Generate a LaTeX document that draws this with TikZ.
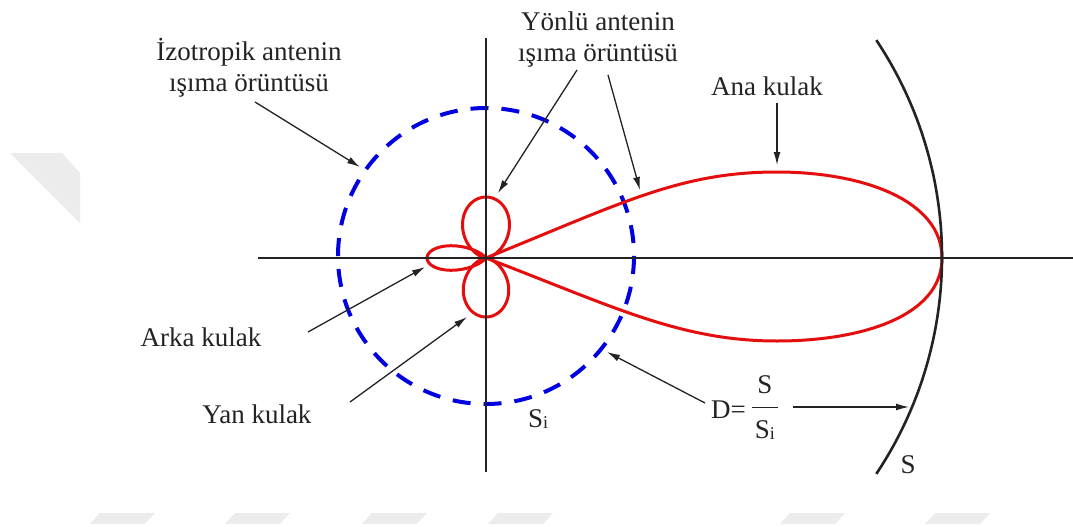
\documentclass[tikz,border=0pt]{standalone}
\usepackage{fontspec}
\setmainfont{Liberation Serif}
\usetikzlibrary{arrows.meta}
\definecolor{lobered}{RGB}{228,14,14}
\definecolor{isoblue}{RGB}{0,0,225}
\definecolor{ink}{RGB}{35,35,35}
\definecolor{wm}{RGB}{236,236,236}
\newcommand{\sbi}{\raisebox{-1.5pt}{\fontsize{18}{18}\selectfont i}}
\begin{document}
\begin{tikzpicture}[x=1pt,y=-1pt,
  lbl/.style={font=\fontsize{27}{31}\selectfont, text=ink, inner sep=0pt},
  axisline/.style={draw=ink, line width=1.5pt},
  ptr/.style={draw=ink, line width=1.3pt, -{Latex[length=13pt,width=7pt]}},
  lobe/.style={draw=lobered, line width=3pt, line join=round},
  isoline/.style={draw=isoblue, line width=4pt, dash pattern=on 18pt off 13pt},
  arcline/.style={draw=ink, line width=2.6pt},
  wmark/.style={fill=wm, draw=none}]
\fill[white] (0,0) rectangle (1073,527);
\useasboundingbox (0,0) rectangle (1073,527);

% faint watermark shapes
\fill[wmark] (10,153) -- (62,153) -- (80,173) -- (80,223) -- cycle;
\foreach \bx in {90,225,362,488,780,925}
  \fill[wmark] (\bx,524) -- ++(10,-11) -- ++(55,0) -- ++(-10,11) -- cycle;

% isotropic pattern
\draw[isoline] (486,256) circle[radius=148];

% directional pattern
\coordinate (O) at (486,258);
\draw[lobe] (O) .. controls (622,203) and (680,172) .. (777,172)
  .. controls (862,172) and (942,200) .. (942,258)
  .. controls (942,316) and (862,341) .. (777,341)
  .. controls (680,341) and (612,306) .. (O);
\draw[lobe] plot[domain=-88:88, samples=121, smooth, variable=\t]
  ({486+61*cos(\t)*cos(\t)*sin(\t)},{258-61*cos(\t)*cos(\t)*cos(\t)});
\draw[lobe] plot[domain=-88:88, samples=121, smooth, variable=\t]
  ({486+59*cos(\t)*cos(\t)*sin(\t)},{258+59*cos(\t)*cos(\t)*cos(\t)});
\draw[lobe] plot[domain=-88:88, samples=121, smooth, variable=\t]
  ({486-59*cos(\t)^9},{258+59*cos(\t)^8*sin(\t)});

% axes
\coordinate (xl) at (258,258); \coordinate (xr) at (1073,258);
\coordinate (yt) at (486,38);  \coordinate (yb) at (486,472);
\draw[axisline] (xl) -- (xr);
\draw[axisline] (yt) -- (yb);

% sphere S
\draw[arcline] plot[domain=-33.7:33.7, samples=60, smooth, variable=\t]
  ({551+391*cos(\t)},{257+391*sin(\t)});

% labels
\node[lbl, align=center] (izo) at (249,68) {İzotropik antenin\\ışıma örüntüsü};
\node[lbl, align=center] (yon) at (598,40) {Yönlü antenin\\ışıma örüntüsü};
\node[lbl, anchor=base] (ana) at (767,95) {Ana kulak};
\node[lbl, anchor=base] (arka) at (201,346) {Arka kulak};
\node[lbl, anchor=base] (yan) at (257,423) {Yan kulak};
\node[lbl, anchor=base west] (si) at (528,427) {S\sbi};
\node[lbl, anchor=base] (sarc) at (908,473) {S};
\node[lbl, anchor=base west] (dform) at (711,418) {D=\kern6pt\raisebox{25pt}{\setlength{\arrayrulewidth}{1.2pt}\begin{tabular}[t]{@{\hspace{3pt}}c@{\hspace{3pt}}}S\\[4.7pt]\hline\rule{0pt}{30pt}S\sbi\end{tabular}}};

% pointer ends
\coordinate (izoA) at (255,102);  \coordinate (izoB) at (360,167);
\coordinate (yonA) at (577,70);   \coordinate (yonB) at (498,193);
\coordinate (yonC) at (608,75);   \coordinate (yonD) at (640,190);
\coordinate (anaA) at (777,103);  \coordinate (anaB) at (777,165);
\coordinate (arkA) at (308,332);  \coordinate (arkB) at (425,267);
\coordinate (yanA) at (350,402);  \coordinate (yanB) at (467,317);
\coordinate (dA) at (705,403);    \coordinate (dB) at (607,352);
\coordinate (sA) at (793,407);    \coordinate (sB) at (909,407);

\draw[ptr] (izoA) -- (izoB);
\draw[ptr] (yonA) -- (yonB);
\draw[ptr] (yonC) -- (yonD);
\draw[ptr] (anaA) -- (anaB);
\draw[ptr] (arkA) -- (arkB);
\draw[ptr] (yanA) -- (yanB);
\draw[ptr] (dA) -- (dB);
\draw[ptr] (sA) -- (sB);
\end{tikzpicture}
\end{document}
